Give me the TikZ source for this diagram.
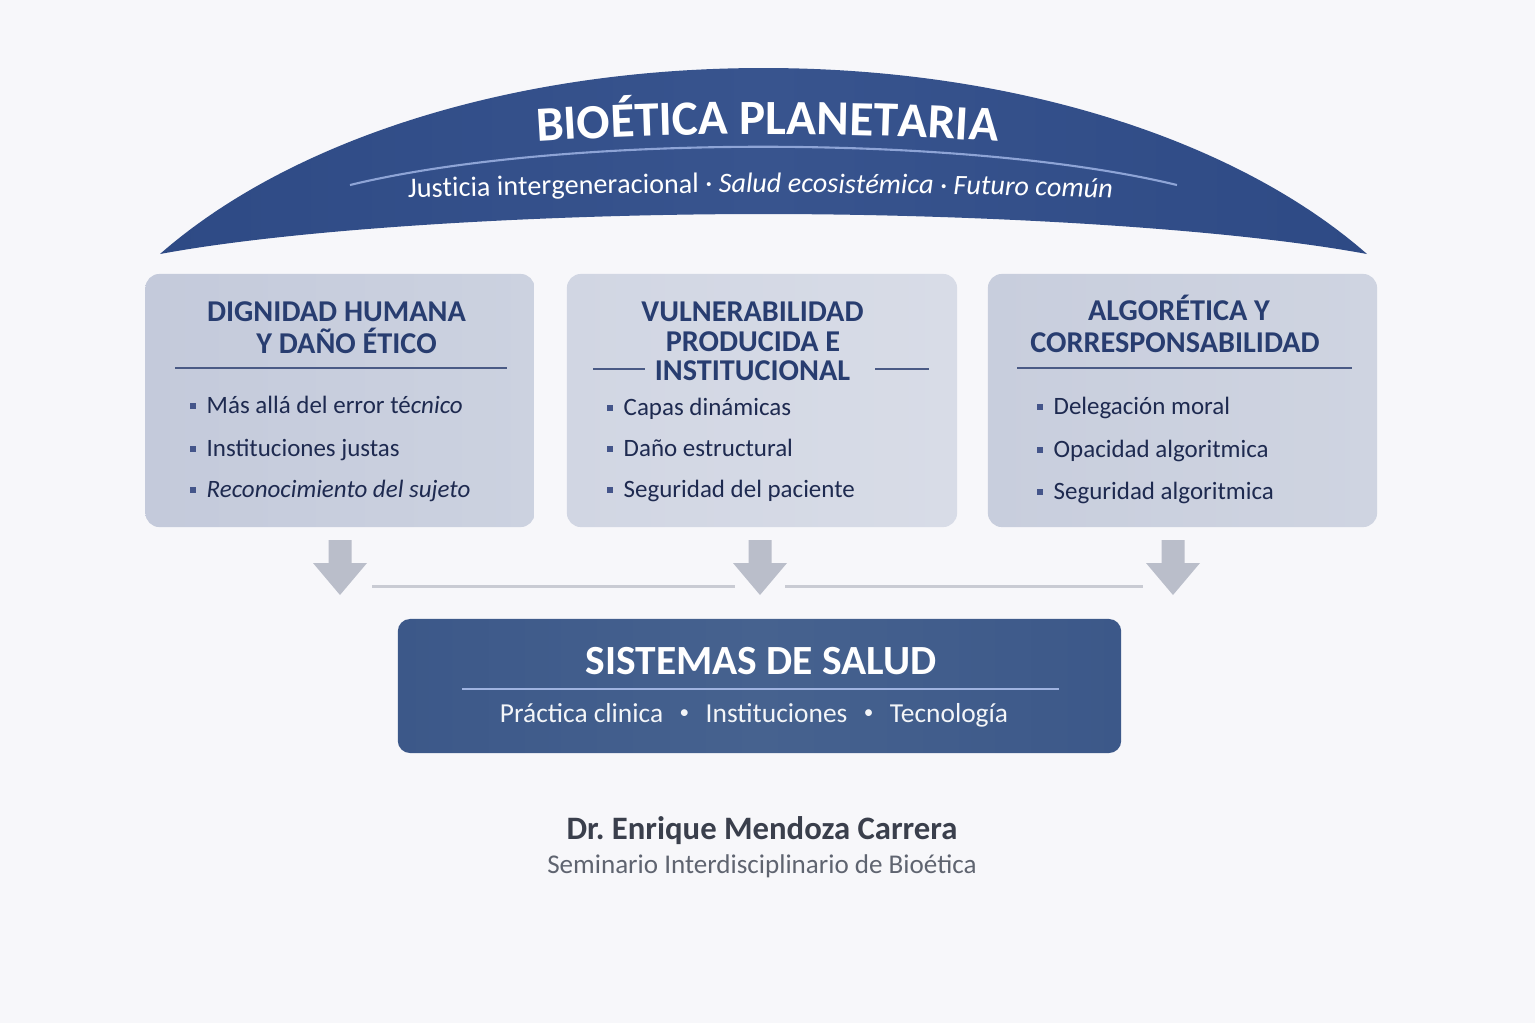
\documentclass[tikz,border=0pt]{standalone}
\usepackage{fontspec}
\setmainfont{Carlito}
\usetikzlibrary{decorations.text}
\frenchspacing
\definecolor{bgc}{HTML}{F7F7FA}
\definecolor{archc}{HTML}{2E4A85}
\definecolor{archmid}{HTML}{38548E}
\definecolor{archline}{HTML}{8EA4D6}
\definecolor{boxa}{HTML}{C4CADB}
\definecolor{boxaR}{HTML}{CCD2E0}
\definecolor{boxb}{HTML}{D1D6E3}
\definecolor{boxbR}{HTML}{D8DCE7}
\definecolor{boxc}{HTML}{C8CEDD}
\definecolor{boxcR}{HTML}{CFD4E1}
\definecolor{headc}{HTML}{283D70}
\definecolor{txtc}{HTML}{1E2A50}
\definecolor{rulec}{HTML}{4A5A85}
\definecolor{bulc}{HTML}{44558A}
\definecolor{arrowc}{HTML}{BABECA}
\definecolor{hlinec}{HTML}{C9CBD3}
\definecolor{botc}{HTML}{3C5889}
\definecolor{botmid}{HTML}{46628F}
\definecolor{botline}{HTML}{9FB3E0}
\definecolor{authc}{HTML}{3A3F4C}
\definecolor{semc}{HTML}{5F6470}
\tikzset{
  panel/.style={rounded corners=4pt, draw=none, inner sep=0pt, minimum height=2.53cm},
  headtxt/.style={anchor=base, inner sep=0pt, text=headc, font=\bfseries\fontsize{8.6}{10}\selectfont},
  itemtxt/.style={anchor=base west, inner sep=0pt, text=txtc, font=\fontsize{7.1}{9}\selectfont},
  rulestyle/.style={draw=rulec, line width=0.35pt},
  hlinestyle/.style={draw=hlinec, line width=0.85pt},
  downarrow/.pic={\fill[arrowc] (-11.5,0) -- (11.5,0) -- (11.5,23) -- (27,23) -- (0,55) -- (-27,23) -- (-11.5,23) -- cycle;}
}
\newcommand\bitem[4]{%
  \fill[bulc] ({#2-16.5},{#3-10.5}) rectangle ({#2-10.5},{#3-4.5});
  \node[itemtxt] (#1) at (#2,#3) {#4};}
\newcommand\smbul{\raisebox{0.12em}{\scalebox{0.7}{•}}}
\begin{document}
\begin{tikzpicture}[x=0.01cm,y=-0.01cm]
\useasboundingbox (0,0) rectangle (1535,1023);
\fill[bgc] (0,0) rectangle (1535,1023);

% arch
\path[left color=archc, right color=archc, middle color=archmid]
  (160,254) .. controls (290,140) and (512,68) .. (763.5,68)
  .. controls (1015,68) and (1237,140) .. (1367,254)
  .. controls (1227,228) and (977,214) .. (763.5,214)
  .. controls (550,214) and (300,228) .. (160,254) -- cycle;
\draw[archline, line width=0.6pt] (350,185) .. controls (560,134) and (966,134) .. (1177,185);
\coordinate (tl) at (530,142);
\coordinate (tr) at (1005,142);
\path[decorate, decoration={text along path, text align=center, text color=white,
  text={|\bfseries\fontsize{14}{16}\selectfont|BIOÉTICA PLANETARIA}}]
  (tl) .. controls (688,131.5) and (847,131.5) .. (tr);
\coordinate (sl) at (405,198);
\coordinate (sr) at (1115,198);
\path[decorate, decoration={text along path, text align=center, text color=white,
  text={|\fontsize{8}{10}\selectfont|Justicia intergeneracional · |\fontsize{8}{10}\selectfont\itshape|Salud ecosistémica|\fontsize{8}{10}\selectfont| · |\fontsize{8}{10}\selectfont\itshape|Futuro común}}]
  (sl) .. controls (642,191) and (878,191) .. (sr);

% panels
\node[panel, left color=boxa, right color=boxaR, minimum width=3.89cm] (b1) at (340,400.5) {};
\node[panel, left color=boxb, right color=boxbR, minimum width=3.90cm] (b2) at (762,400.5) {};
\node[panel, left color=boxc, right color=boxcR, minimum width=3.89cm] (b3) at (1182.5,400.5) {};

% panel 1
\node[headtxt] (h1a) at (336.5,321) {DIGNIDAD HUMANA};
\node[headtxt] (h1b) at (346.5,353) {Y DAÑO ÉTICO};
\draw[rulestyle] (175,368) -- (507,368);
\bitem{i1a}{206}{413}{Más allá del error té\textit{cnico}}
\bitem{i1b}{206}{456}{Instituciones justas}
\bitem{i1c}{206}{497}{\textit{Reconocimiento del sujeto}}

% panel 2
\node[headtxt] (h2a) at (752.5,321) {VULNERABILIDAD};
\node[headtxt] (h2b) at (753,351) {PRODUCIDA E};
\node[headtxt] (h2c) at (752.5,380) {INSTITUCIONAL};
\draw[rulestyle] (593,369) -- (645,369);
\draw[rulestyle] (875,369) -- (929,369);
\bitem{i2a}{623}{415}{Capas dinámicas}
\bitem{i2b}{623}{456}{Daño estructural}
\bitem{i2c}{623}{497}{Seguridad del paciente}

% panel 3
\node[headtxt] (h3a) at (1179,320) {ALGORÉTICA Y};
\node[headtxt] (h3b) at (1175,352) {CORRESPONSABILIDAD};
\draw[rulestyle] (1017,368) -- (1352,368);
\bitem{i3a}{1053}{414}{Delegación moral}
\bitem{i3b}{1053}{457}{Opacidad algoritmica}
\bitem{i3c}{1053}{499}{Seguridad algoritmica}

% arrows
\pic (ar1) at (340,540) {downarrow};
\pic (ar2) at (760,540) {downarrow};
\pic (ar3) at (1173,540) {downarrow};
\coordinate (l1s) at (372,586);
\coordinate (l1e) at (735,586);
\coordinate (l2s) at (785,586);
\coordinate (l2e) at (1143,586);
\draw[hlinestyle] (l1s) -- (l1e);
\draw[hlinestyle] (l2s) -- (l2e);

% bottom box
\node[rounded corners=3.5pt, inner sep=0pt, left color=botc, right color=botc, middle color=botmid, minimum width=7.23cm, minimum height=1.34cm] (sys) at (759.5,686) {};
\node[anchor=base, inner sep=0pt, text=white, font=\bfseries\fontsize{11.8}{13}\selectfont] (systitle) at (761,674) {SISTEMAS DE SALUD};
\draw[botline, line width=0.5pt] (462,689) -- (1059,689);
\node[anchor=base, inner sep=0pt, text=white!94!botc, font=\fontsize{7.8}{10}\selectfont] (syssub) at (754,722) {Práctica clinica\hspace{0.6em}\smbul\hspace{0.6em}Instituciones\hspace{0.6em}\smbul\hspace{0.6em}Tecnología};

% author
\node[anchor=base, inner sep=0pt, text=authc, font=\bfseries\fontsize{9.3}{11}\selectfont] (author) at (762,839) {Dr. Enrique Mendoza Carrera};
\node[anchor=base, inner sep=0pt, text=semc, font=\fontsize{7.7}{10}\selectfont] (seminar) at (762,873) {Seminario Interdisciplinario de Bioética};
\end{tikzpicture}
\end{document}
